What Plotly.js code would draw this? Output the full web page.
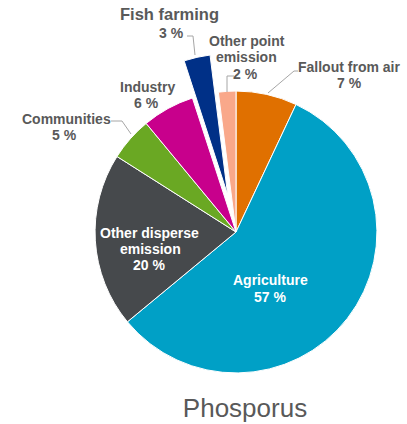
<!DOCTYPE html>
<html>
<head>
<meta charset="utf-8">
<script src="https://cdn.plot.ly/plotly-3.0.1.min.js"></script>
<style>
html,body{margin:0;padding:0;overflow:hidden;background:#fff;width:407px;height:424px;}
#chart{position:absolute;left:0;top:0;width:480px;height:424px;}
</style>
</head>
<body>
<div id="chart"></div>
<script>
// ---- data ----
const categories = ["Fallout from air", "Agriculture", "Other disperse<br>emission", "Communities", "Industry", "Fish farming", "Other point<br>emission"];
const values = [7, 57, 20, 5, 6, 3, 2];
const sliceColors = ["#E07000", "#00A0C6", "#46494C", "#6AA823", "#C8008C", "#003087", "#F9A88A"];
const pulls = [0, 0, 0, 0, 0, 0.27, 0];
const chartTitle = "Phosporus";

// ---- layout helpers ----
const W = 480, H = 424;
const px = x => x / W;
const py = y => 1 - y / H;
const FONT = "Liberation Sans, Arial, sans-serif";
const GRAY = "#595959";

// label placement per slice (pixel centres of each line, last = percent line)
const labelPos = [
  {lines: [[349, 67]], pct: [349, 83], color: GRAY, size: 14},
  {lines: [[270, 280]], pct: [270, 297], color: "#ffffff", size: 14},
  {lines: [[149, 233], [150, 249]], pct: [149, 265], color: "#ffffff", size: 14},
  {lines: [[66, 119]], pct: [64, 135], color: GRAY, size: 14},
  {lines: [[147, 87]], pct: [146, 103], color: GRAY, size: 14},
  {lines: [[169, 14]], pct: [171, 33], color: GRAY, size: 16.5, pctSize: 14},
  {lines: [[247, 41], [247, 57]], pct: [246, 74], color: GRAY, size: 14}
];

const annotations = [];
categories.forEach((cat, i) => {
  const parts = cat.split("<br>");
  const p = labelPos[i];
  parts.forEach((t, j) => {
    annotations.push({
      text: t, x: px(p.lines[j][0]), y: py(p.lines[j][1]), xref: "paper", yref: "paper",
      xanchor: "center", yanchor: "middle", showarrow: false,
      font: {family: FONT, size: p.size, color: p.color, weight: "bold"}
    });
  });
  annotations.push({
    text: values[i] + " %", x: px(p.pct[0]), y: py(p.pct[1]), xref: "paper", yref: "paper",
    xanchor: "center", yanchor: "middle", showarrow: false,
    font: {family: FONT, size: p.pctSize || p.size, color: p.color, weight: "bold"}
  });
});

// leader lines
const leaders = [
  [[298, 71], [294, 71], [268, 93]],
  [[111, 121], [122, 121], [131, 134]],
  [[187, 36], [193, 36], [195, 55]],
  [[234, 76], [227, 76], [227, 92]]
];
const shapes = leaders.map(pts => ({
  type: "path", xref: "paper", yref: "paper",
  path: pts.map((p, k) => (k ? "L" : "M") + px(p[0]) + "," + py(p[1])).join(" "),
  line: {color: "#A6A6A6", width: 1}
}));

const trace = {
  type: "pie",
  labels: categories,
  values: values,
  sort: false,
  direction: "clockwise",
  rotation: 0,
  pull: pulls,
  marker: {colors: sliceColors, line: {color: "#ffffff", width: 1}},
  textinfo: "none",
  hoverinfo: "skip",
  showlegend: false,
  domain: {x: [57 / W, 415 / W], y: [py(411), py(53)]}
};

const layout = {
  width: W, height: H,
  margin: {l: 0, r: 0, t: 0, b: 0},
  paper_bgcolor: "#ffffff",
  showlegend: false,
  title: {
    text: chartTitle, x: px(245), y: py(408), xanchor: "center", yanchor: "middle",
    font: {family: FONT, size: 26, color: GRAY}
  },
  annotations: annotations,
  shapes: shapes
};

Plotly.newPlot("chart", [trace], layout, {staticPlot: true, displayModeBar: false});
</script>
</body>
</html>
